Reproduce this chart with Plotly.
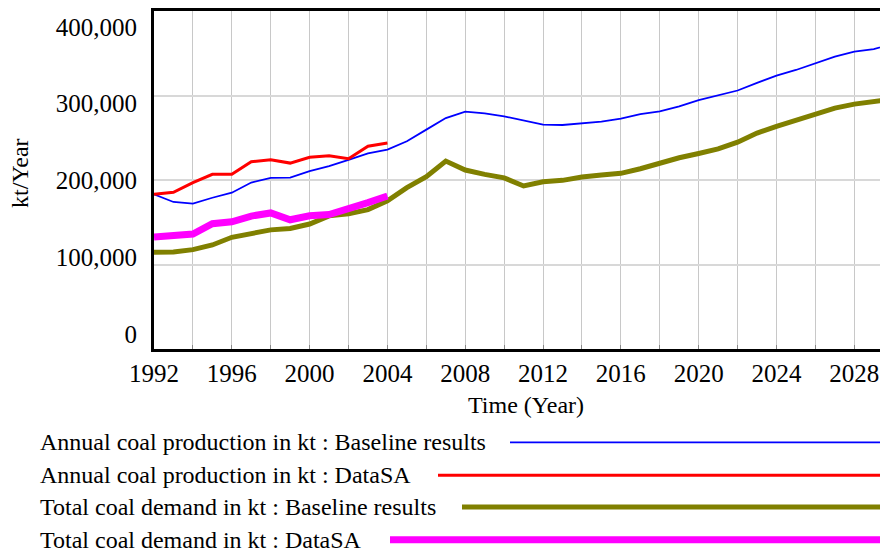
import plotly.graph_objects as go

# ---------------- data ----------------
years = list(range(1992, 2031))
years_data = list(range(1992, 2005))

prod_baseline = [183000, 174000, 172000, 179000, 185000, 197000, 202500, 202700, 210600,
                 216500, 223900, 231400, 236000, 245900, 259600, 273300, 280800, 278800,
                 275300, 270200, 265500, 265100, 267400, 269000, 272600, 278000, 281200,
                 287100, 294500, 300400, 305900, 315000, 323500, 330200, 337600, 345900,
                 351800, 355000, 361000]
prod_datasa = [183000, 185500, 196800, 206700, 206700, 221600, 224000, 220000, 227000,
               228600, 225100, 240000, 243700]
dem_baseline = [114500, 114900, 117600, 123100, 132200, 136100, 141000, 142700, 147900,
                157600, 160000, 165000, 175500, 191000, 203900, 222400, 211800, 206700,
                202500, 192900, 198000, 199600, 203500, 205900, 207900, 213300, 220400,
                226300, 231400, 236800, 244700, 255500, 263500, 271000, 278000, 285000,
                289800, 293000, 296000]
dem_datasa = [132600, 134500, 136100, 148200, 150600, 157300, 161000, 152900, 157600,
              159200, 165500, 173300, 181000]

series_names = [
    "Annual coal production in kt : Baseline results",
    "Annual coal production in kt : DataSA",
    "Total coal demand in kt : Baseline results",
    "Total coal demand in kt : DataSA",
]
y_tick_vals = [0, 100000, 200000, 300000, 400000]
y_tick_text = ["0", "100,000", "200,000", "300,000", "400,000"]
x_grid_vals = list(range(1992, 2031, 2))
x_tick_text = [str(y) if (y - 1992) % 4 == 0 else "" for y in x_grid_vals]

# ---------------- styling ----------------
FONT = "Liberation Serif, Times New Roman, serif"
colors = ["#0000FF", "#FF0000", "#808000", "#FF00FF"]
widths = [1.8, 3, 5, 7]

OFF = 8  # page body margin offset
W, H = 888 - OFF, 553 - OFF
ML, MT, MR, MB = 154 - OFF, 9 - OFF, 0, 553 - 349
PW, PH = W - ML - MR, H - MT - MB


def px(x):
    return (x - OFF - ML) / PW


def py(y):
    return (H - MB - (y - OFF)) / PH


fig = go.Figure()
xs = [years, years_data, years, years_data]
ys = [prod_baseline, prod_datasa, dem_baseline, dem_datasa]
for i in [2, 0, 1, 3]:
    fig.add_trace(go.Scatter(x=xs[i], y=ys[i], mode="lines", name=series_names[i],
                             line=dict(color=colors[i], width=widths[i]),
                             showlegend=False))
# helper trace so the label axis exists
fig.add_trace(go.Scatter(x=[None], y=[None], yaxis="y2", showlegend=False,
                         hoverinfo="skip"))

# label axis offsets (Vensim-style spread of tick labels)
lab_bottom_px = 334 - OFF
lab_top_px = 25 - OFF
span = (lab_bottom_px - lab_top_px) / 400000.0
y2_lo = -((H - MB) - lab_bottom_px) / span
y2_hi = (lab_bottom_px - MT) / span

fig.update_layout(
    width=W, height=H,
    margin=dict(l=ML, r=MR, t=MT, b=MB),
    paper_bgcolor="white", plot_bgcolor="white",
    font=dict(family=FONT, size=24, color="black"),
    xaxis=dict(range=[1992, 1992 + PW / 19.453], tickmode="array",
               tickvals=x_grid_vals, ticktext=x_tick_text,
               showgrid=True, gridcolor="#C8C8C8", gridwidth=1,
               showline=True, linecolor="black", linewidth=3, mirror=True,
               ticks="inside", ticklen=4, tickcolor="#888888",
               tickfont=dict(size=25), zeroline=False),
    yaxis=dict(range=[0, 400000], tickmode="array", tickvals=y_tick_vals,
               showticklabels=False, showgrid=True, gridcolor="#D8D8D8", gridwidth=2,
               showline=True, linecolor="black", linewidth=3, zeroline=False,
               ticks=""),
    yaxis2=dict(range=[y2_lo, y2_hi], overlaying="y", side="left", anchor="x",
                tickmode="array", tickvals=y_tick_vals, ticktext=y_tick_text,
                showgrid=False, zeroline=False, showline=False, ticks="",
                ticklabelstandoff=16, tickfont=dict(size=25)),
    showlegend=False,
)

ann = [
    dict(text="kt/Year", x=px(20), y=py(172), xref="paper", yref="paper",
         xanchor="center", yanchor="middle",
         textangle=-90, showarrow=False, font=dict(size=24)),
    dict(text="Time (Year)", x=px(526), y=py(405), xref="paper", yref="paper",
         xanchor="center", yanchor="middle", showarrow=False, font=dict(size=24)),
]
row_y = [443, 476, 508, 541]
line_start = [510, 438, 462, 390]
shapes = []
for i in range(4):
    ann.append(dict(text=series_names[i], x=px(38), y=py(row_y[i]), xref="paper",
                    yref="paper", xanchor="left", yanchor="middle", showarrow=False,
                    font=dict(size=24)))
    shapes.append(dict(type="line", xref="paper", yref="paper",
                       x0=px(line_start[i]), x1=px(888), y0=py(row_y[i]), y1=py(row_y[i]),
                       line=dict(color=colors[i], width=widths[i])))
fig.update_layout(annotations=ann, shapes=shapes)

fig.write_html("out.html")
